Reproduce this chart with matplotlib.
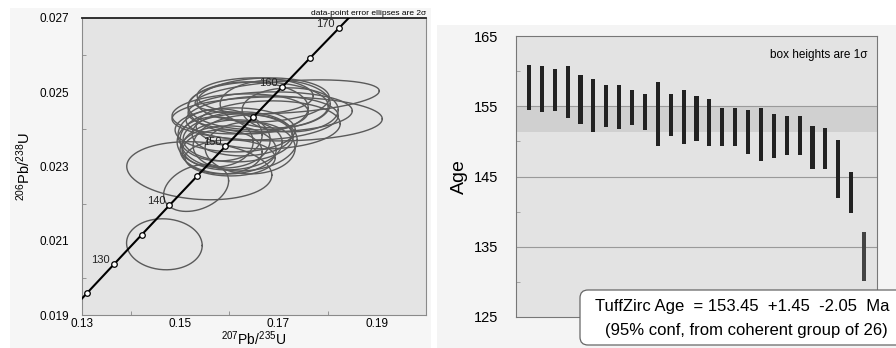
import numpy as np
import matplotlib
matplotlib.use("Agg")
import matplotlib.pyplot as plt
from matplotlib.patches import Rectangle, FancyBboxPatch
from matplotlib.transforms import IdentityTransform

plt.rcParams['font.family'] = ['Liberation Sans', 'DejaVu Sans']
plt.rcParams['mathtext.fontset'] = 'custom'
plt.rcParams['mathtext.rm'] = 'Liberation Sans'
plt.rcParams['mathtext.it'] = 'Liberation Sans:italic'

# concordia age ticks (Ma) and which ones get a label
conc_ages = [125, 130, 135, 140, 145, 150, 155, 160, 165, 170]
conc_labels = [130, 140, 150, 160, 170]
lam238 = 1.55125e-10
lam235 = 9.8485e-10

# 2-sigma error ellipses: 207Pb/235U, 206Pb/238U centres, semi-axes, correlation
ell_x = [0.14681, 0.15326, 0.15391,
         0.16690, 0.17178, 0.16974, 0.16832, 0.16669, 0.16588, 0.16384,
         0.16934, 0.16221, 0.17239, 0.16527, 0.16791,
         0.15916, 0.16059, 0.15814, 0.16181, 0.15977, 0.16323, 0.15713,
         0.16120, 0.16425, 0.15855, 0.16262, 0.16018]
ell_y = [0.020905, 0.022423, 0.022886,
         0.024794, 0.024875, 0.024282, 0.024471, 0.024309, 0.024633, 0.024579,
         0.024686, 0.024417, 0.024525, 0.024902, 0.024121,
         0.023716, 0.023582, 0.023851, 0.023770, 0.023447, 0.023635, 0.023662,
         0.023986, 0.023501, 0.023393, 0.023878, 0.023231]
ell_sx = [0.00769, 0.00661, 0.01475,
          0.01343, 0.01872, 0.02137, 0.01669, 0.01547, 0.01425, 0.01221,
          0.01119, 0.01384, 0.00977, 0.01180, 0.01465,
          0.00916, 0.01018, 0.00855, 0.01119, 0.00977, 0.01058, 0.00773,
          0.01221, 0.00916, 0.00814, 0.01018, 0.00916]
ell_sy = [0.000687, 0.000633, 0.000782,
          0.000593, 0.000458, 0.000593, 0.000539, 0.000593, 0.000647, 0.000701,
          0.000647, 0.000539, 0.000593, 0.000485, 0.000647,
          0.000755, 0.000674, 0.000701, 0.000647, 0.000647, 0.000755, 0.000674,
          0.000593, 0.000701, 0.000593, 0.000593, 0.000485]
ell_rho = [-0.05, 0.3, -0.15,
           0.1, 0.35, 0.0, 0.05, 0.1, 0.0, 0.0,
           0.0, 0.1, 0.0, 0.0, 0.05,
           0.0, 0.1, 0.0, 0.05, 0.0, 0.1, 0.0,
           0.0, 0.0, 0.0, 0.0, 0.0]

# weighted-average plot: 1-sigma boxes (Ma), sorted old to young
box_top = [160.83, 160.74, 160.36, 160.74, 159.41, 158.84, 158.08, 158.08, 157.37,
           156.75, 158.41, 156.75, 157.32, 156.52, 156.00, 154.72, 154.72, 154.48,
           154.72, 153.91, 153.58, 153.58, 152.16, 151.92, 150.17, 145.62, 137.09]
box_bot = [154.48, 154.15, 154.34, 153.29, 152.44, 151.40, 152.01, 151.82, 152.35,
           151.68, 149.31, 150.73, 149.60, 150.12, 149.31, 149.36, 149.36, 148.18,
           147.23, 147.70, 148.08, 148.13, 146.09, 146.04, 141.92, 139.74, 130.07]
n_coherent = 26
tz_age, tz_plus, tz_minus = 153.45, 1.45, 2.05

W, H = 896, 348
fig = plt.figure(figsize=(W / 100, H / 100), dpi=100)
fig.patch.set_facecolor('white')

# panel backgrounds, kept behind the axes
fig.patches.append(Rectangle((10, 0), 421, 340, transform=IdentityTransform(),
                             facecolor='#f6f6f6', edgecolor='none', zorder=-5))
fig.patches.append(Rectangle((437, 0), 459, 323, transform=IdentityTransform(),
                             facecolor='#f4f4f4', edgecolor='none', zorder=-5))

# ---------------- concordia ----------------
ax1 = fig.add_axes([81.7 / W, 33 / H, 344.3 / W, 297 / H])
ax1.set_facecolor('#e4e4e4')
ax1.set_xlim(0.13, 0.20)
ax1.set_ylim(0.019, 0.027)

t = np.linspace(110e6, 190e6, 400)
ax1.plot(np.exp(lam235 * t) - 1, np.exp(lam238 * t) - 1, color='black', lw=1.5, zorder=4)

tt = np.linspace(0, 2 * np.pi, 240)
for cx, cy, sx, sy, r in zip(ell_x, ell_y, ell_sx, ell_sy, ell_rho):
    ex = cx + sx * np.cos(tt)
    ey = cy + sy * (r * np.cos(tt) + np.sqrt(1 - r * r) * np.sin(tt))
    ax1.plot(ex, ey, color='#5a5a5a', lw=1.0, zorder=3)

ca = np.array(conc_ages) * 1e6
ax1.plot(np.exp(lam235 * ca) - 1, np.exp(lam238 * ca) - 1, 'o', ms=4,
         mfc='white', mec='black', mew=0.9, zorder=5)
for a in conc_labels:
    ax1.annotate(str(a), (np.exp(lam235 * a * 1e6) - 1, np.exp(lam238 * a * 1e6) - 1),
                 xytext=(-3, 3), textcoords='offset points', ha='right', va='center',
                 fontsize=8, color='#222222', zorder=6)

ax1.set_xticks([0.13, 0.15, 0.17, 0.19])
ax1.set_xticks([0.14, 0.16, 0.18], minor=True)
ax1.set_yticks([0.019, 0.021, 0.023, 0.025, 0.027])
ax1.set_yticks([0.020, 0.022, 0.024, 0.026], minor=True)
ax1.set_xticklabels(['0.13', '0.15', '0.17', '0.19'])
ax1.set_yticklabels(['0.019', '0.021', '0.023', '0.025', '0.027'])
ax1.tick_params(which='both', direction='in', length=3, color='#888888',
                labelsize=8.5, pad=4)
ax1.tick_params(axis='y', which='major', length=0, pad=9)
ax1.tick_params(axis='x', which='major', length=0, pad=2)
for s in ['left', 'bottom', 'right']:
    ax1.spines[s].set_color('#8a8a8a')
ax1.spines['top'].set_color('#222222')
ax1.spines['top'].set_linewidth(1.3)
ax1.set_xlabel(r'$^{207}$Pb/$^{235}$U', fontsize=10, labelpad=0)
ax1.set_ylabel(r'$^{206}$Pb/$^{238}$U', fontsize=10.5, labelpad=5)
ax1.text(1.0, 1.005, 'data-point error ellipses are 2σ', transform=ax1.transAxes,
         ha='right', va='bottom', fontsize=6)

# ---------------- weighted average ----------------
ax2 = fig.add_axes([516 / W, 31 / H, 361 / W, 281 / H])
ax2.set_facecolor('#e3e3e3')
ax2.set_xlim(0, len(box_top) + 1)
ax2.set_ylim(125, 165)
ax2.axhspan(tz_age - tz_minus, tz_age + tz_plus, color='#d0d0d0', lw=0, zorder=1)
for g in [135, 145, 155]:
    ax2.axhline(g, color='#9a9a9a', lw=0.8, zorder=2)

xs = np.arange(1, len(box_top) + 1)
heights = np.array(box_top) - np.array(box_bot)
colors = ['#222222'] * n_coherent + ['#444444'] * (len(box_top) - n_coherent)
ax2.bar(xs, heights, bottom=box_bot, width=0.32, color=colors, zorder=3)

ax2.set_xticks([])
ax2.set_yticks([125, 135, 145, 155, 165])
ax2.set_yticks([130, 140, 150, 160], minor=True)
ax2.tick_params(axis='y', which='major', length=0, labelsize=10.5, pad=13)
ax2.tick_params(axis='y', which='minor', direction='in', length=3, color='#999999')
for s in ax2.spines.values():
    s.set_color('#777777')
ax2.set_ylabel('Age', fontsize=14, labelpad=4)
ax2.text(0.975, 0.955, 'box heights are 1σ', transform=ax2.transAxes,
         ha='right', va='top', fontsize=8.5)

# result box (runs off the right edge)
fig.patches.append(FancyBboxPatch((580, 3), 340, 55, transform=IdentityTransform(),
                                  boxstyle='round,pad=0,rounding_size=8',
                                  facecolor='white', edgecolor='#666666', lw=0.9,
                                  zorder=10))
fig.text(595 / W, 41 / H,
         'TuffZirc Age  = %.2f  +%.2f  -%.2f  Ma' % (tz_age, tz_plus, tz_minus),
         ha='left', va='center', fontsize=12, zorder=11)
fig.text(605 / W, 17 / H, '(95%% conf, from coherent group of %d)' % n_coherent,
         ha='left', va='center', fontsize=12, zorder=11)

fig.savefig('out.png', dpi=100)
